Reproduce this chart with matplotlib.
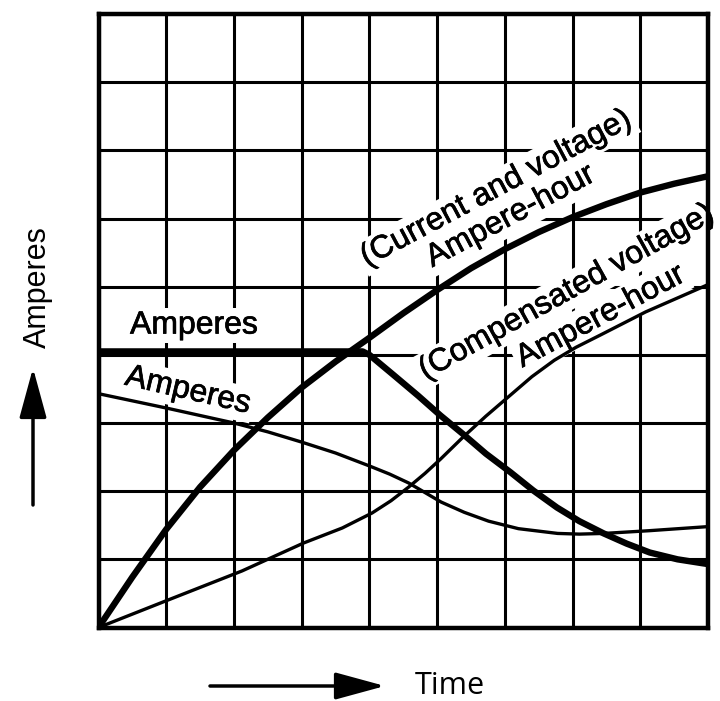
import matplotlib
matplotlib.use("Agg")
import matplotlib.pyplot as plt
import matplotlib.patheffects as pe

# ---- data (grid units: 9 x 9 squares) ----
cv_ah_x = [0, 0.5, 1.0, 1.5, 2.0, 2.5, 3.0, 3.5, 4.0, 4.5, 5.0, 5.5, 6.0, 6.5, 7.0, 7.5, 8.0, 8.5, 9.0]
cv_ah_y = [0, 0.74, 1.44, 2.06, 2.60, 3.08, 3.52, 3.90, 4.25, 4.61, 4.95, 5.27, 5.55, 5.80, 6.02, 6.21, 6.38, 6.51, 6.62]

cv_amp_x = [0, 3.9, 4.0, 4.35, 4.72, 5.05, 5.38, 5.72, 6.08, 6.42, 6.77, 7.1, 7.46, 7.8, 8.14, 8.55, 9.0]
cv_amp_y = [4.05, 4.05, 4.0, 3.71, 3.40, 3.11, 2.84, 2.55, 2.28, 2.01, 1.76, 1.56, 1.38, 1.23, 1.10, 1.00, 0.93]

comp_amp_x = [0, 1, 2, 2.5, 3, 3.5, 4, 4.3, 4.58, 4.82, 5.06, 5.4, 5.76, 6.2, 6.78, 7.1, 7.46, 8.13, 9.0]
comp_amp_y = [3.43, 3.22, 3.0, 2.87, 2.72, 2.56, 2.37, 2.25, 2.12, 1.98, 1.84, 1.69, 1.56, 1.45, 1.38, 1.37, 1.38, 1.42, 1.48]

comp_ah_x = [0, 1.07, 2.12, 3.03, 3.6, 4.04, 4.32, 4.58, 4.82, 5.05, 5.38, 5.72, 6.06, 6.4, 6.73, 7.05, 7.41, 8.08, 9.0]
comp_ah_y = [0, 0.42, 0.83, 1.24, 1.46, 1.68, 1.86, 2.06, 2.26, 2.47, 2.79, 3.10, 3.39, 3.68, 3.92, 4.11, 4.29, 4.63, 5.03]

grid_ticks = list(range(10))

labels = [
    ("Amperes", 1.41, 4.43, 0),
    ("Amperes", 1.32, 3.47, -13),
    ("(Current and voltage)", 5.88, 6.44, 28),
    ("Ampere-hour", 6.09, 6.03, 28),
    ("(Compensated voltage)", 6.92, 4.92, 29),
    ("Ampere-hour", 7.42, 4.56, 28),
]

FONT = "Liberation Sans"
heavy = [pe.withStroke(linewidth=0.5, foreground="black")]

fig = plt.figure(figsize=(7.2, 7.01), dpi=100)
ax = fig.add_axes([98.5 / 720, 1 - 627.5 / 701, 609.5 / 720, 613.5 / 701])

ax.set_xlim(0, 9)
ax.set_ylim(0, 9)
ax.set_xticks(grid_ticks)
ax.set_yticks(grid_ticks)
ax.tick_params(length=0, labelbottom=False, labelleft=False)
ax.set_axisbelow(True)
ax.grid(True, color="black", linewidth=2.2)
for s in ax.spines.values():
    s.set_linewidth(3.2)
    s.set_zorder(5)

kw = dict(color="black", zorder=4, solid_capstyle="round", solid_joinstyle="round")
ax.plot(cv_ah_x, cv_ah_y, lw=4.6, **kw)
ax.plot(cv_amp_x, cv_amp_y, lw=4.6, **kw)
ax.plot(comp_amp_x, comp_amp_y, lw=2.4, **kw)
ax.plot(comp_ah_x, comp_ah_y, lw=2.4, **kw)

for txt, x, y, rot in labels:
    ax.text(x, y, txt, rotation=rot, rotation_mode="anchor", ha="center", va="center",
            fontsize=23, family=FONT, color="black", zorder=3, clip_on=False,
            path_effects=heavy,
            bbox=dict(facecolor="white", edgecolor="none", pad=2))

# axis labels with arrows
fig.text(38 / 720, 1 - 287 / 701, "Amperes", rotation=90, ha="center", va="center",
         fontsize=22, family=FONT)
ax.annotate("", xy=(33, 701 - 368), xytext=(33, 701 - 505), xycoords="figure pixels",
            textcoords="figure pixels",
            arrowprops=dict(arrowstyle="-|>,head_length=1.1,head_width=0.3", lw=2.5,
                            color="black", mutation_scale=28, shrinkA=0, shrinkB=0))
ax.annotate("", xy=(385, 701 - 686), xytext=(210, 701 - 686), xycoords="figure pixels",
            textcoords="figure pixels",
            arrowprops=dict(arrowstyle="-|>,head_length=1.1,head_width=0.3", lw=2.5,
                            color="black", mutation_scale=28, shrinkA=0, shrinkB=0))
fig.text(415 / 720, 1 - 686 / 701, "Time", ha="left", va="center", fontsize=22, family="Open Sans")

fig.savefig("out.png", dpi=100, facecolor="white")
